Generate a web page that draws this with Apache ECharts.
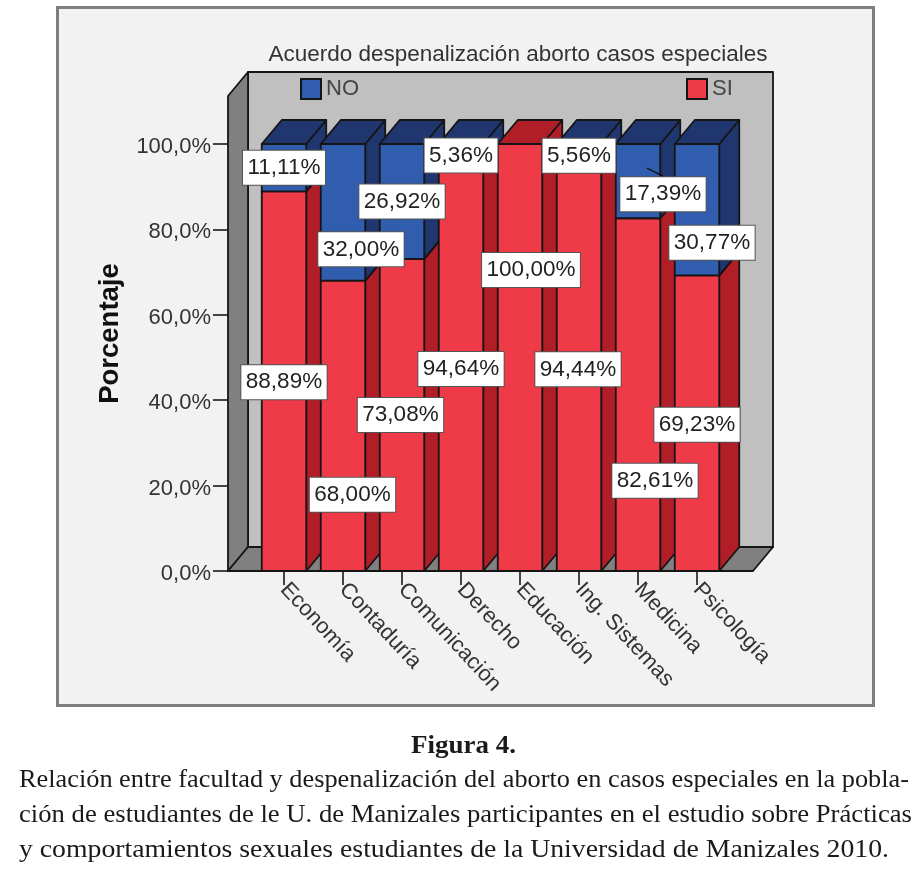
<!DOCTYPE html>
<html><head><meta charset="utf-8">
<style>html,body{margin:0;padding:0;background:#fff}#c{width:924px;height:883px}</style>
<script src="https://cdn.jsdelivr.net/npm/echarts@6/dist/echarts.min.js"></script>
</head><body><div id="c"></div>
<script>
const categories = ['Economía','Contaduría','Comunicación','Derecho','Educación','Ing. Sistemas','Medicina','Psicología'];
const siValues = [88.89,68.00,73.08,94.64,100.00,94.44,82.61,69.23];
const noValues = [11.11,32.00,26.92,5.36,0,5.56,17.39,30.77];
const yTicks = [0,20,40,60,80,100];
const chartTitle = 'Acuerdo despenalización aborto casos especiales';
const yName = 'Porcentaje';
const captionHead = 'Figura 4.';
const captionLines = [
 'Relación entre facultad y despenalización del aborto en casos especiales en la pobla-',
 'ción de estudiantes de le U. de Manizales participantes en el estudio sobre Prácticas',
 'y comportamientos sexuales estudiantes de la Universidad de Manizales 2010.'
];
// label displacement in pixels relative to the centre of each segment (SPSS moved them to avoid overlap)
const siShift = [[0,1],[9.5,69],[-1.5,0],[0,0],[11,-87.5],[-1,0],[17,86],[0,1.5]];
const noShift = [[0,0],[18,37],[0,0],[0,0],[0,0],[0,0],[25,13],[15,33]];
const leaderFor = 6;

const DX=20, DY=24, PAD=26.5, WALLTOP=48, EDGE='#151515';
const C={redF:'#EF3A47',redD:'#B11E28',bluF:'#305DAD',bluD:'#20366F',wall:'#C0C0C0',side:'#808080'};
const FF='"Liberation Sans",Arial,sans-serif';

function fit(text,font,w){const c=document.createElement('canvas').getContext('2d');c.font=font;return w/c.measureText(text).width;}

function poly(points,fill,z2){return {type:'polygon',z2,shape:{points},style:{fill,stroke:EDGE,lineWidth:1.8,lineJoin:'round'}};}

function barRender(front,dark,baseIdx){
  return function(params,api){
    const v=api.value(1), base=api.value(2), i=api.value(0);
    if(!(v>0)) return null;
    const c=api.coord([i,base+v]), b=api.coord([i,base]);
    const w=api.size([1,0])[0]*0.754, x0=c[0]-w/2, x1=c[0]+w/2, yt=c[1], yb=b[1];
    const z=(i+1)*10+baseIdx;
    return {type:'group',children:[
      poly([[x1,yb],[x1+DX,yb-DY],[x1+DX,yt-DY],[x1,yt]],dark,z),
      poly([[x0,yt],[x1,yt],[x1+DX,yt-DY],[x0+DX,yt-DY]],dark,z),
      poly([[x0,yb],[x1,yb],[x1,yt],[x0,yt]],front,z+1)
    ]};
  };
}
function wallRender(params){
  const g=params.coordSys, L=g.x-PAD, R=g.x+g.width+PAD, B=g.y+g.height, T=g.y-WALLTOP;
  return {type:'group',children:[
    poly([[L+DX,T-DY],[R+DX,T-DY],[R+DX,B-DY],[L+DX,B-DY]],C.wall,1),
    poly([[L,T],[L+DX,T-DY],[L+DX,B-DY],[L,B]],C.side,2),
    poly([[L,B],[L+DX,B-DY],[R+DX,B-DY],[R,B]],C.side,2)
  ]};
}
function labelRender(params,api){
  const i=api.value(0), base=api.value(1), v=api.value(2), sx=api.value(3), sy=api.value(4), lead=api.value(5);
  if(!(v>0)) return null;
  const p=api.coord([i,base+v/2]), x=p[0]+sx, y=p[1]+sy;
  const kids=[];
  if(lead){kids.push({type:'line',z2:500,shape:{x1:x-16,y1:y-26,x2:x,y2:y-18},style:{stroke:'#111',lineWidth:1.2}});}
  kids.push({type:'text',z2:501,x,y,style:{
    text:v.toFixed(2).replace('.',',')+'%',fill:'#222',fontFamily:FF,fontSize:22.5,align:'center',verticalAlign:'middle',
    backgroundColor:'#fff',borderColor:'#555',borderWidth:1,padding:[5.5,4.5,5.5,4.5],
    boxShadowColor:'rgba(0,0,0,0.35)',boxShadowBlur:2,boxShadowOffsetX:1,boxShadowOffsetY:1}});
  return {type:'group',children:kids};
}

const siRows=categories.map((c,i)=>[i,siValues[i],0]);
const noRows=categories.map((c,i)=>[i,noValues[i],siValues[i]]);
const labelRows=[];
categories.forEach((c,i)=>{
  labelRows.push([i,0,siValues[i],siShift[i][0],siShift[i][1],0]);
  labelRows.push([i,siValues[i],noValues[i],noShift[i][0],noShift[i][1],i===leaderFor?1:0]);
});

const serif='"Liberation Serif",serif';
const capW=[890,893,870];
const capEls=captionLines.map((t,i)=>{
  const font='25px '+serif;
  return {type:'text',z:5,x:19,y:780+i*35,scaleX:fit(t,font,capW[i]),
    style:{text:t,font,fill:'#1a1a1a',textAlign:'left',textVerticalAlign:'middle'}};
});
const headFont='bold 26px '+serif;

const chart=echarts.init(document.getElementById('c'),null,{renderer:'canvas'});
chart.setOption({
  animation:false,
  backgroundColor:'#fff',
  title:{text:chartTitle,left:513,top:38,textAlign:'center',textStyle:{fontFamily:FF,fontWeight:'normal',fontSize:22.5,color:'#333'}},
  legend:[
    {data:['NO'],icon:'rect',left:300,top:78,itemWidth:20,itemHeight:20,itemGap:4,padding:0,selectedMode:false,textStyle:{fontFamily:FF,fontSize:22,color:'#444',verticalAlign:'top',lineHeight:6}},
    {data:['SI'],icon:'rect',left:686,top:78,itemWidth:20,itemHeight:20,itemGap:4,padding:0,selectedMode:false,textStyle:{fontFamily:FF,fontSize:22,color:'#444',verticalAlign:'top',lineHeight:6}}
  ],
  grid:{left:254.5,width:472,top:144,height:427},
  xAxis:{type:'category',data:categories,
    axisLine:{show:false},
    axisTick:{show:true,alignWithLabel:true,length:14,lineStyle:{color:'#444',width:2}},
    axisLabel:{interval:0,rotate:-47,margin:15,fontFamily:FF,fontSize:22,color:'#333'}},
  yAxis:{type:'value',min:0,max:100,interval:20,offset:PAD,
    name:yName,nameLocation:'middle',nameRotate:90,nameGap:104,
    nameTextStyle:{fontFamily:FF,fontWeight:'bold',fontSize:27.5,color:'#111',padding:[0,0,0,48]},
    splitLine:{show:false},axisLine:{show:false},
    axisTick:{show:true,length:15,lineStyle:{color:'#444',width:2}},
    axisLabel:{margin:17,verticalAlign:'top',lineHeight:6,fontFamily:FF,fontSize:22,color:'#333',
      customValues:yTicks,formatter:v=>v.toFixed(1).replace('.',',')+'%'}},
  series:[
    {type:'custom',name:'walls',z:1,silent:true,data:[[0]],renderItem:wallRender,encode:{x:0}},
    {type:'custom',name:'SI',z:3,silent:true,data:siRows,renderItem:barRender(C.redF,C.redD,0),encode:{x:0,y:1},itemStyle:{color:C.redF,borderColor:EDGE,borderWidth:1.5}},
    {type:'custom',name:'NO',z:3,silent:true,data:noRows,renderItem:barRender(C.bluF,C.bluD,2),encode:{x:0,y:1},itemStyle:{color:C.bluF,borderColor:EDGE,borderWidth:1.5}},
    {type:'custom',name:'labels',z:6,silent:true,data:labelRows,renderItem:labelRender,encode:{x:0}}
  ],
  graphic:{elements:[
    {type:'rect',z:0,silent:true,shape:{x:57.5,y:7.5,width:816,height:698},style:{fill:'#F2F2F2',stroke:'#7f7f7f',lineWidth:3}},
    {type:'text',z:5,x:411,y:746,scaleX:fit(captionHead,headFont,105),style:{text:captionHead,font:headFont,fill:'#1a1a1a',textAlign:'left',textVerticalAlign:'middle'}},
    ...capEls
  ]}
});
</script></body></html>
